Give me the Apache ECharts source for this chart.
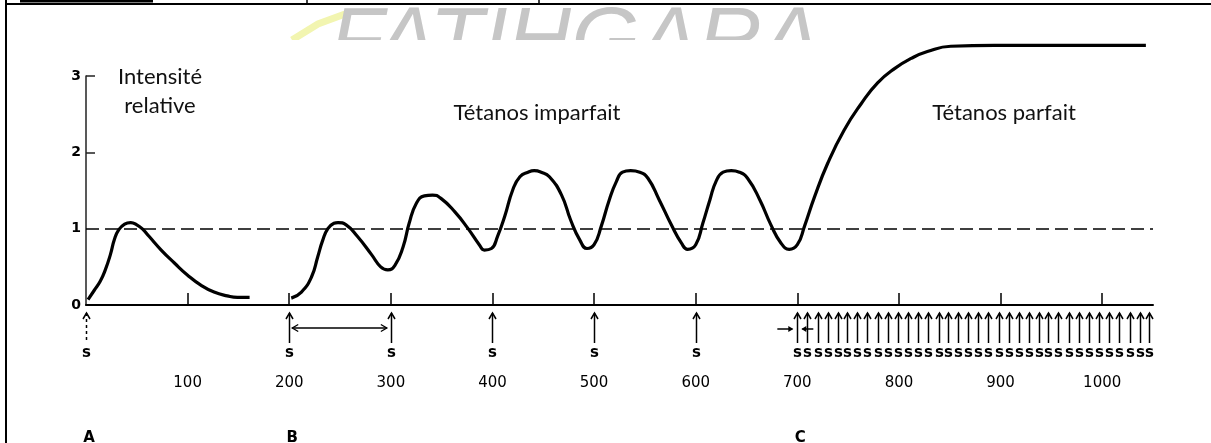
<!DOCTYPE html>
<html>
<head>
<meta charset="utf-8">
<title>Tétanos</title>
<script src="https://cdn.jsdelivr.net/npm/echarts@6/dist/echarts.min.js"></script>
<style>
    html, body { margin: 0; padding: 0; background: #fff; }
    #main { width: 1211px; height: 443px; }
</style>
</head>
<body>
<div id="main"></div>
<script>
// secousse isolée (A)
var twitchT = [2, 8, 14, 19, 24, 28, 32, 38, 44, 50, 56, 62, 74, 87, 100, 113, 126, 139, 149, 161];
var twitchV = [0.07, 0.19, 0.31, 0.46, 0.66, 0.86, 0.98, 1.06, 1.08, 1.05, 0.99, 0.90, 0.72, 0.55, 0.39, 0.26, 0.17, 0.12, 0.10, 0.10];

// tétanos imparfait puis parfait (B, C)
var trainT = [202, 212, 222, 228, 233, 238, 244, 248, 256, 267, 281, 290, 297, 304, 312, 318, 325, 333, 341, 349,
    363, 376, 387, 392, 399, 405, 412, 420, 427, 435, 441, 448, 456, 468, 477, 486, 493, 500, 507, 515, 522,
    528, 536, 545, 553, 564, 576, 586, 592, 600, 607, 614, 620, 627, 635, 643, 651, 663, 674, 684, 692, 700, 707,
    717, 730, 746, 763, 779, 796, 812, 828, 851, 894, 1043];
var trainV = [0.09, 0.17, 0.37, 0.63, 0.85, 1.00, 1.07, 1.08, 1.05, 0.90, 0.66, 0.50, 0.46, 0.52, 0.76, 1.07, 1.33, 1.43, 1.44, 1.40,
    1.22, 1.00, 0.79, 0.72, 0.74, 0.90, 1.16, 1.51, 1.68, 1.74, 1.76, 1.74, 1.68, 1.44, 1.11, 0.85, 0.74, 0.79, 1.03, 1.38, 1.62,
    1.74, 1.76, 1.74, 1.66, 1.38, 1.05, 0.81, 0.73, 0.79, 1.07, 1.38, 1.62, 1.74, 1.76, 1.74, 1.66, 1.38, 1.05, 0.81, 0.73, 0.79, 1.03,
    1.42, 1.86, 2.29, 2.64, 2.91, 3.10, 3.23, 3.32, 3.39, 3.40, 3.40];

// stimulations (s)
var stimA = [0];
var stimB = [200, 300, 400, 500, 600];
var stimC = [700, 710, 720, 730, 740, 749, 759, 769, 779, 789, 799, 809, 819, 829, 839, 848, 858, 868,
    878, 888, 898, 908, 918, 928, 938, 947, 957, 967, 977, 987, 997, 1007, 1017, 1027, 1037, 1046];

// graduations
var xTicks = [100, 200, 300, 400, 500, 600, 700, 800, 900, 1000];
var yTicks = [0, 1, 2, 3];
var refLevel = 1;

// repères A / B / C
var phaseT = [0, 200, 700];
var phaseLetters = ['A', 'B', 'C'];

function zip(a, b) {
    var out = [];
    for (var i = 0; i < a.length; i++) out.push([a[i], b[i]]);
    return out;
}

var stimData = [];
stimA.forEach(function (t) { stimData.push([t, 1]); });
stimB.forEach(function (t) { stimData.push([t, 0]); });
stimC.forEach(function (t) { stimData.push([t, 0]); });

var BLACK = '#000';

function arrowUp(x, y) {
    return { type: 'polyline', shape: { points: [[x - 3.5, y + 6], [x, y], [x + 3.5, y + 6]] },
        style: { stroke: BLACK, fill: null, lineWidth: 1.5 } };
}

// flèche verticale + "s" sous l'axe
function renderStim(params, api) {
    var p = api.coord([api.value(0), 0]);
    var x = Math.round(p[0]) + 0.5, y0 = p[1];
    var dashed = api.value(1) === 1;
    return {
        type: 'group',
        children: [
            { type: 'line', shape: { x1: x, y1: y0 + 8, x2: x, y2: y0 + 38 },
              style: { stroke: BLACK, lineWidth: 1.5, lineDash: dashed ? [3, 3] : null } },
            arrowUp(x, y0 + 8),
            { type: 'text', style: { text: 's', x: x, y: y0 + 48, align: 'center', verticalAlign: 'middle',
              font: 'bold 15px "DejaVu Sans"', fill: BLACK } }
        ]
    };
}

// double flèche de l'intervalle entre deux stimulations (B)
function renderInterval(params, api) {
    var a = api.coord([api.value(0), 0]), b = api.coord([api.value(1), 0]);
    var y = a[1] + 23, x1 = a[0] + 3, x2 = b[0] - 4;
    return {
        type: 'group',
        children: [
            { type: 'line', shape: { x1: x1, y1: y, x2: x2, y2: y }, style: { stroke: BLACK, lineWidth: 1.3 } },
            { type: 'polyline', shape: { points: [[x1 + 6, y - 3.5], [x1, y], [x1 + 6, y + 3.5]] },
              style: { stroke: BLACK, fill: null, lineWidth: 1.3 } },
            { type: 'polyline', shape: { points: [[x2 - 6, y - 3.5], [x2, y], [x2 - 6, y + 3.5]] },
              style: { stroke: BLACK, fill: null, lineWidth: 1.3 } }
        ]
    };
}

// petites flèches -> | <- autour de la première stimulation de C
function renderPeriod(params, api) {
    var p = api.coord([api.value(0), 0]);
    var x = p[0], y = p[1] + 24;
    return {
        type: 'group',
        children: [
            { type: 'line', shape: { x1: x - 20, y1: y, x2: x - 5, y2: y }, style: { stroke: BLACK, lineWidth: 1.5 } },
            { type: 'polygon', shape: { points: [[x - 4, y], [x - 9, y - 3], [x - 9, y + 3]] }, style: { fill: BLACK } },
            { type: 'line', shape: { x1: x + 5, y1: y, x2: x + 16, y2: y }, style: { stroke: BLACK, lineWidth: 1.5 } },
            { type: 'polygon', shape: { points: [[x + 4, y], [x + 9, y - 3], [x + 9, y + 3]] }, style: { fill: BLACK } }
        ]
    };
}

function renderPhase(params, api) {
    var p = api.coord([api.value(0), 0]);
    return {
        type: 'text',
        style: { text: phaseLetters[params.dataIndex], x: p[0] + 3, y: p[1] + 126, align: 'center', verticalAlign: 'top',
                 font: 'bold 15px "DejaVu Sans"', fill: BLACK }
    };
}

var chart = echarts.init(document.getElementById('main'), null, { renderer: 'canvas' });

var annotFont = '22px Lato';

chart.setOption({
    backgroundColor: '#fff'
    , animation: false
    , grid: { left: 86, right: 58, top: 76, bottom: 138, containLabel: false, outerBoundsMode: 'none' }
    , xAxis: {
        type: 'value', min: 0, max: 1050
        , axisLine: { show: true, onZero: false, lineStyle: { color: BLACK, width: 2 } }
        , axisTick: { show: true, inside: true, length: 12, customValues: xTicks, lineStyle: { color: BLACK, width: 1.5 } }
        , axisLabel: { show: true, customValues: xTicks, margin: 71, color: BLACK,
                       fontFamily: 'DejaVu Sans', fontSize: 15,
                       formatter: function (v) { return String(v); } }
        , splitLine: { show: false }
    }
    , yAxis: {
        type: 'value', min: 0, max: 3, interval: 1
        , axisLine: { show: true, lineStyle: { color: '#222', width: 1.5 } }
        , axisTick: { show: true, inside: true, length: 9, customValues: [2, 3], lineStyle: { color: '#222', width: 1.5 } }
        , axisLabel: { show: true, customValues: yTicks, margin: 5, color: BLACK,
                       fontFamily: 'DejaVu Sans', fontWeight: 'bold', fontSize: 14 }
        , splitLine: { show: false }
    }
    , series: [
        {
            name: 'secousse', type: 'line', data: zip(twitchT, twitchV)
            , smooth: 0.5, showSymbol: false, clip: false
            , lineStyle: { color: BLACK, width: 3.2 }
            , emphasis: { disabled: true }
            , markLine: {
                silent: true, symbol: ['none', 'none']
                , label: { show: false }
                , lineStyle: { color: BLACK, width: 1.5, type: [13, 6] }
                , data: [{ yAxis: refLevel }]
            }
        }
        , {
            name: 'tétanos', type: 'line', data: zip(trainT, trainV)
            , smooth: 0.5, showSymbol: false, clip: false
            , lineStyle: { color: BLACK, width: 3.2 }
            , emphasis: { disabled: true }
        }
        , { name: 'stim', type: 'custom', renderItem: renderStim, data: stimData, clip: false, silent: true }
        , { name: 'intervalle', type: 'custom', renderItem: renderInterval, data: [[stimB[0], stimB[1]]], clip: false, silent: true }
        , { name: 'periode', type: 'custom', renderItem: renderPeriod, data: [[stimC[0]]], clip: false, silent: true }
        , { name: 'phases', type: 'custom', renderItem: renderPhase, data: phaseT.map(function (t) { return [t]; }), clip: false, silent: true }
    ]
    , graphic: [
        // cadre du document
        { type: 'line', shape: { x1: 6, y1: 4, x2: 1211, y2: 4 }, style: { stroke: BLACK, lineWidth: 2 } }
        , { type: 'line', shape: { x1: 6, y1: 0, x2: 6, y2: 443 }, style: { stroke: BLACK, lineWidth: 2 } }
        , { type: 'rect', shape: { x: 20, y: 0, width: 133, height: 2.5 }, style: { fill: BLACK } }
        , { type: 'line', shape: { x1: 307, y1: 0, x2: 307, y2: 4 }, style: { stroke: BLACK, lineWidth: 1.5 } }
        , { type: 'line', shape: { x1: 539, y1: 0, x2: 539, y2: 4 }, style: { stroke: BLACK, lineWidth: 1.5 } }
        // filigrane coupé
        , { type: 'polyline', z: 1, shape: { points: [[292, 40], [318, 24], [345, 14]] },
            style: { stroke: '#f2f5b0', lineWidth: 7, fill: null } }
        , { type: 'text', z: 1, x: 330, y: 0,
            style: { text: 'FATIHGARA', font: 'italic 88px "Liberation Sans"', fill: '#c6c6c6', align: 'left', verticalAlign: 'top' } }
        , { type: 'rect', z: 2, shape: { x: 200, y: 40, width: 800, height: 30 }, style: { fill: '#fff' } }
        // légendes
        , { type: 'text', z: 3, x: 160, y: 77, style: { text: 'Intensité', font: annotFont, fill: '#111', align: 'center', verticalAlign: 'middle' } }
        , { type: 'text', z: 3, x: 160, y: 106, style: { text: 'relative', font: annotFont, fill: '#111', align: 'center', verticalAlign: 'middle' } }
        , { type: 'text', z: 3, x: 537, y: 113, style: { text: 'Tétanos imparfait', font: annotFont, fill: '#111', align: 'center', verticalAlign: 'middle' } }
        , { type: 'text', z: 3, x: 1004, y: 113, style: { text: 'Tétanos parfait', font: annotFont, fill: '#111', align: 'center', verticalAlign: 'middle' } }
    ]
});
</script>
</body>
</html>
